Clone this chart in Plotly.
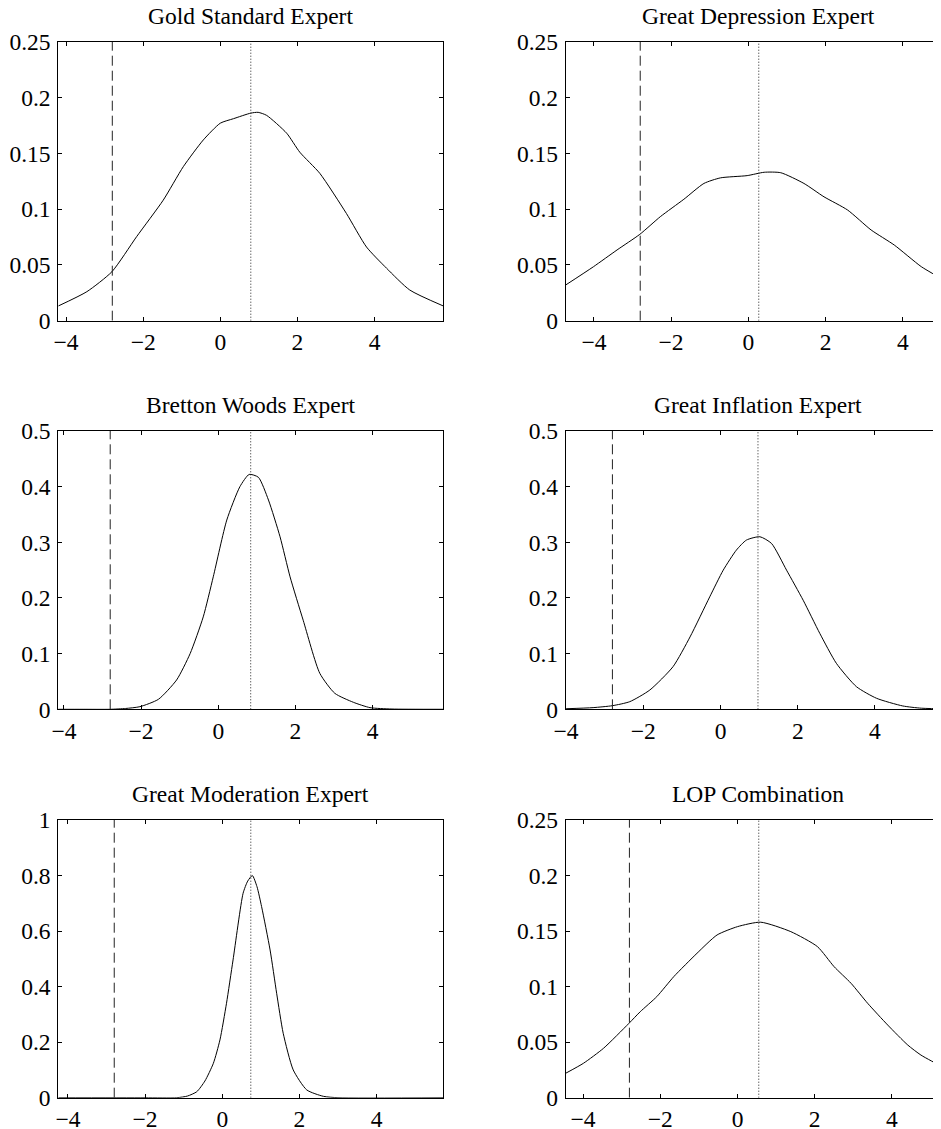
import plotly.graph_objects as go

# ---------------- data ----------------
titles = ["Gold Standard Expert", "Great Depression Expert",
          "Bretton Woods Expert", "Great Inflation Expert",
          "Great Moderation Expert", "LOP Combination"]

gs_x = [-4.2, -3.46, -2.81, -2.17, -1.48, -0.96, -0.44, 0.0, 0.34, 0.79, 0.98, 1.2, 1.72, 2.06, 2.58, 3.27, 3.79, 4.31, 4.91, 5.78]
gs_y = [0.0132, 0.026, 0.0439, 0.0753, 0.108, 0.138, 0.162, 0.177, 0.181, 0.186, 0.1867, 0.184, 0.168, 0.151, 0.132, 0.096, 0.066, 0.047, 0.0275, 0.0132]

gd_x = [-4.73, -4.01, -3.40, -2.81, -2.28, -1.67, -1.15, -0.72, -0.03, 0.41, 0.84, 1.44, 1.96, 2.57, 3.18, 3.78, 4.48, 5.02, 5.25]
gd_y = [0.032, 0.0484, 0.0634, 0.0774, 0.0932, 0.1088, 0.123, 0.128, 0.130, 0.133, 0.1326, 0.123, 0.111, 0.0992, 0.0813, 0.0678, 0.0484, 0.0374, 0.033]

bw_x = [-4.15, -3.5, -2.8, -2.4, -2.03, -1.55, -1.08, -0.73, -0.39, -0.13, 0.22, 0.56, 0.80, 1.04, 1.30, 1.60, 1.86, 2.20, 2.63, 3.02, 3.50, 3.93, 4.5, 5.83]
bw_y = [0.0, 0.0, 0.0, 0.0015, 0.0047, 0.018, 0.0527, 0.10, 0.166, 0.238, 0.34, 0.40, 0.422, 0.4168, 0.376, 0.31, 0.238, 0.160, 0.0647, 0.0287, 0.0126, 0.003, 0.0005, 0.0]

gi_x = [-4.0, -3.3, -2.80, -2.35, -1.83, -1.23, -0.79, -0.28, 0.07, 0.41, 0.67, 1.02, 1.32, 1.71, 2.14, 2.57, 3.00, 3.52, 4.04, 4.72, 5.2, 5.98]
gi_y = [0.001, 0.003, 0.0065, 0.0137, 0.0347, 0.0766, 0.130, 0.202, 0.250, 0.286, 0.304, 0.310, 0.298, 0.250, 0.196, 0.1365, 0.0826, 0.0406, 0.0198, 0.006, 0.002, 0.0005]

gm_x = [-4.25, -2.0, -1.18, -0.9, -0.66, -0.45, -0.23, -0.06, 0.11, 0.28, 0.54, 0.66, 0.78, 0.9, 1.02, 1.24, 1.41, 1.58, 1.84, 2.19, 2.62, 3.0, 5.73]
gm_y = [0.0, 0.0, 0.0, 0.006, 0.0216, 0.06, 0.124, 0.208, 0.34, 0.496, 0.736, 0.78, 0.80, 0.76, 0.688, 0.532, 0.376, 0.232, 0.10, 0.028, 0.005, 0.0, 0.0]

lop_x = [-4.45, -3.99, -3.47, -2.81, -2.52, -2.09, -1.65, -1.05, -0.53, 0.0, 0.60, 1.38, 2.07, 2.50, 2.94, 3.37, 3.89, 4.41, 4.75, 5.30, 5.53]
lop_y = [0.022, 0.031, 0.0445, 0.067, 0.0774, 0.091, 0.109, 0.130, 0.1465, 0.154, 0.158, 0.1495, 0.136, 0.118, 0.103, 0.085, 0.0654, 0.0474, 0.0384, 0.0279, 0.024]

curves_x = [gs_x, gd_x, bw_x, gi_x, gm_x, lop_x]
curves_y = [gs_y, gd_y, bw_y, gi_y, gm_y, lop_y]

dashed_value = -2.8                                 # dashed vertical line
dotted_values = [0.79, 0.27, 0.84, 0.97, 0.74, 0.55]  # dotted vertical lines

x_ranges = [[-4.2, 5.78], [-4.73, 4.99], [-4.145, 5.83], [-4.01, 5.71], [-4.25, 5.73], [-4.45, 5.27]]
y_max = [0.25, 0.25, 0.5, 0.5, 1.0, 0.25]
y_dtick = [0.05, 0.05, 0.1, 0.1, 0.2, 0.05]
x_ticks = [-4, -2, 0, 2, 4]

# ---------------- layout geometry ----------------
# the page body has an 8px margin, so the figure is placed 8px in from the window corner
OFF = 8
WIN_W, WIN_H = 941, 1129
W, H = WIN_W - OFF, WIN_H - OFF


def px_x(p):
    return (p - OFF) / W


def px_y(p):
    return 1 - (p - OFF) / H


left_dom = [px_x(58.3), px_x(443.3)]
right_dom = [px_x(565.7), 1.0]
rows_px = [(41.7, 320.7), (431.0, 709.3), (820.0, 1097.7)]
title_centers = [px_x(250.8), px_x(758.2)]

FONT = "Liberation Serif"
FS = 23.5

fig = go.Figure()
layout = dict(template="none", width=W, height=H, margin=dict(l=0, r=0, t=0, b=0, pad=0),
              autosize=False,
              paper_bgcolor="white", plot_bgcolor="white", showlegend=False,
              font=dict(family=FONT, size=FS, color="black"))
annotations = []

for i in range(6):
    r, c = divmod(i, 2)
    n = i + 1
    xa = "x" if n == 1 else f"x{n}"
    ya = "y" if n == 1 else f"y{n}"
    top_px, bot_px = rows_px[r]
    ydom = [px_y(bot_px), px_y(top_px)]
    xdom = left_dom if c == 0 else right_dom

    fig.add_trace(go.Scatter(x=curves_x[i], y=curves_y[i], mode="lines",
                             line=dict(color="black", width=1, shape="spline", smoothing=0.6),
                             xaxis=xa, yaxis=ya, hoverinfo="skip"))
    fig.add_trace(go.Scatter(x=[dashed_value, dashed_value], y=[0, y_max[i]], mode="lines",
                             line=dict(color="#222222", width=1, dash="10px,5px"),
                             xaxis=xa, yaxis=ya, hoverinfo="skip"))
    fig.add_trace(go.Scatter(x=[dotted_values[i], dotted_values[i]], y=[0, y_max[i]], mode="lines",
                             line=dict(color="#222222", width=1, dash="1px,2px"),
                             xaxis=xa, yaxis=ya, hoverinfo="skip"))

    axis_common = dict(ticks="inside", ticklen=4, tickwidth=1, tickcolor="black",
                       showline=True, linecolor="black", linewidth=1,
                       showgrid=False, zeroline=False, automargin=False,
                       tickfont=dict(family=FONT, size=FS, color="black"))
    layout["xaxis" if n == 1 else f"xaxis{n}"] = dict(
        domain=xdom, range=x_ranges[i], anchor=ya,
        tickmode="array", tickvals=x_ticks, mirror="ticks", **axis_common)
    layout["yaxis" if n == 1 else f"yaxis{n}"] = dict(
        domain=ydom, range=[0, y_max[i]], anchor=xa,
        tickmode="linear", tick0=0, dtick=y_dtick[i], ticklabelstandoff=2,
        mirror="ticks" if c == 0 else False, **axis_common)

    annotations.append(dict(text=titles[i], x=title_centers[c], xref="paper",
                            y=ydom[1], yref="paper", xanchor="center", yanchor="bottom",
                            yshift=11, showarrow=False,
                            font=dict(family=FONT, size=FS, color="black")))

layout["annotations"] = annotations
fig.update_layout(**layout)
fig.write_html("out.html")
